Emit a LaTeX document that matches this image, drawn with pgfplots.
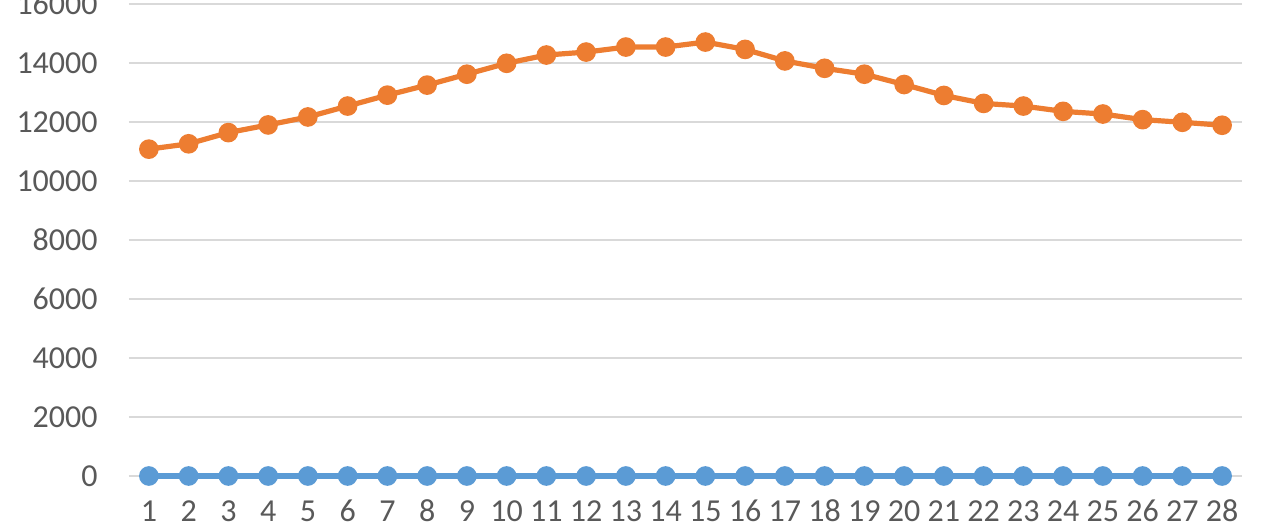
\documentclass[border=0pt]{standalone}
\usepackage{fontspec}
\setmainfont{Carlito}
\usepackage{pgfplots}
\pgfplotsset{compat=1.18}
\definecolor{exorange}{HTML}{ED7D31}
\definecolor{exblue}{HTML}{5B9BD5}
\definecolor{exgrid}{HTML}{D9D9D9}
\definecolor{extext}{HTML}{595959}
\begin{document}
\begin{tikzpicture}
\begin{axis}[
  at={(64.5pt,26pt)}, anchor=south west,
  scale only axis, width=556.5pt, height=236pt,
  xmin=0.5, xmax=28.5, ymin=0, ymax=16000,
  xtick={1,...,28}, ytick={0,2000,...,16000},
  scaled y ticks=false,
  axis line style={draw=none},
  major tick length=0pt,
  ymajorgrids, grid style={exgrid, line width=0.8pt},
  /pgf/number format/assume math mode=true,
  /pgf/number format/set thousands separator={},
  tick label style={font=\fontsize{16}{19}\selectfont, text=extext},
  yticklabel style={inner sep=0pt, anchor=east, xshift=-15.5pt},
  xticklabel style={inner sep=0pt, anchor=base, yshift=-23pt},
  clip=false,
]
\addplot[exblue, line width=2.6pt, mark=*, mark size=3.6pt, mark options={fill=exblue, draw=exblue}]
coordinates {(1,0)(2,0)(3,0)(4,0)(5,0)(6,0)(7,0)(8,0)(9,0)(10,0)(11,0)(12,0)(13,0)(14,0)(15,0)(16,0)(17,0)(18,0)(19,0)(20,0)(21,0)(22,0)(23,0)(24,0)(25,0)(26,0)(27,0)(28,0)};
\addplot[exorange, line width=2.6pt, mark=*, mark size=3.6pt, mark options={fill=exorange, draw=exorange}]
coordinates {(1,11080)(2,11260)(3,11640)(4,11900)(5,12170)(6,12540)(7,12910)(8,13250)(9,13620)(10,13990)(11,14270)(12,14370)(13,14540)(14,14540)(15,14710)(16,14460)(17,14070)(18,13820)(19,13620)(20,13270)(21,12900)(22,12630)(23,12540)(24,12360)(25,12270)(26,12080)(27,11990)(28,11890)};
\end{axis}
\pgfresetboundingbox
\path[use as bounding box] (0,0) rectangle (640pt,264pt);
\end{tikzpicture}
\end{document}
